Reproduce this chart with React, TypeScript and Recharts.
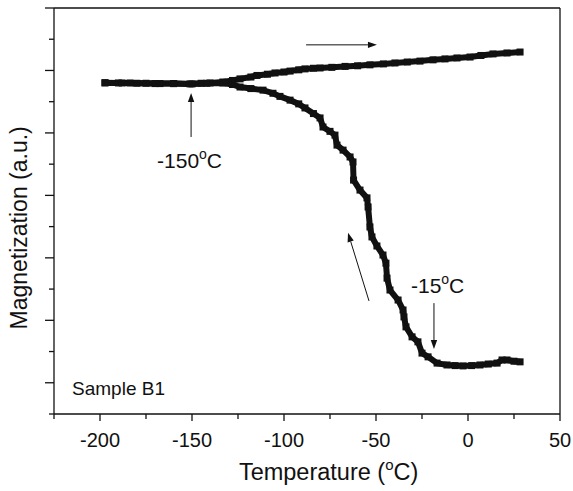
import { LineChart, Line, XAxis, YAxis, ReferenceLine, ReferenceDot } from "recharts";

// temperature (°C) / magnetization (a.u., in tick units)
const warmingT = [-197.3, -190, -183.7, -175, -167.4, -160, -151.1, -145, -140.2, -133.2, -128, -123.9, -118, -114.7, -109, -104.9, -100, -96.7, -92, -88.6, -84, -80.4, -74, -66.8, -60, -53.3, -46, -39.7, -33, -26.1, -19, -12.5, -6, 1.1, 7, 13.6, 21.2, 28.3];
const warmingM = [10.61, 10.6, 10.6, 10.59, 10.58, 10.58, 10.57, 10.59, 10.6, 10.63, 10.68, 10.73, 10.79, 10.84, 10.88, 10.92, 10.95, 10.98, 11.02, 11.05, 11.07, 11.08, 11.1, 11.13, 11.15, 11.18, 11.21, 11.24, 11.27, 11.3, 11.34, 11.37, 11.4, 11.43, 11.48, 11.53, 11.56, 11.59];

const coolingT = [-197.3, -188, -180, -170, -160, -150, -142, -133.2, -128, -123.9, -118, -111.4, -106, -102.2, -96.7, -92, -88.6, -84, -80.4, -78.8, -75, -72.3, -71.2, -67.9, -64.1, -62.5, -62.2, -58.7, -54.9, -54.3, -53.3, -52.2, -49.5, -46.2, -44.6, -44.0, -42.4, -38.0, -35.3, -34.8, -33.7, -30.4, -27.2, -25.0, -21.7, -16.8, -11.4, -7, -2.7, 2, 6.5, 11, 15.8, 18.5, 21.2, 25, 28.3];
const coolingM = [10.6, 10.6, 10.59, 10.58, 10.58, 10.57, 10.59, 10.6, 10.55, 10.47, 10.42, 10.37, 10.27, 10.17, 10.05, 9.93, 9.8, 9.62, 9.48, 9.19, 9.05, 8.93, 8.61, 8.45, 8.23, 8.07, 7.49, 7.17, 6.92, 6.63, 5.99, 5.67, 5.38, 5.09, 4.83, 4.35, 3.97, 3.65, 3.33, 3.11, 2.79, 2.47, 2.31, 1.95, 1.83, 1.63, 1.57, 1.55, 1.54, 1.55, 1.57, 1.6, 1.63, 1.73, 1.73, 1.69, 1.67];

const xTicks = [-225, -200, -175, -150, -125, -100, -75, -50, -25, 0, 25, 50];
const yTicks = [0, 1, 2, 3, 4, 5, 6, 7, 8, 9, 10, 11, 12, 13];

const warming = warmingT.map((t, i) => ({ t, m: warmingM[i] }));
const cooling = coolingT.map((t, i) => ({ t, m: coolingM[i] }));

const INK = "#111";
const FONT = "'Liberation Sans', Arial, sans-serif";

function XTick({ x, y, payload }: any) {
  const major = payload.value % 50 === 0;
  return (
    <g>
      <line x1={x} y1={y} x2={x} y2={y + (major ? 7 : 5)} stroke={INK} strokeWidth={1.3} />
      {major && (
        <text x={x} y={y + 33} textAnchor="middle" fontSize={20} fontFamily={FONT} fill={INK}>
          {payload.value}
        </text>
      )}
    </g>
  );
}

function YTick({ x, y, payload }: any) {
  const major = payload.value % 2 === 1;
  return <line x1={x} y1={y} x2={x - (major ? 9 : 5)} y2={y} stroke={INK} strokeWidth={1.3} />;
}

function SquareDot(p: any) {
  return <rect key={p.index} x={p.cx - 3.5} y={p.cy - 3.5} width={7} height={7} fill={INK} />;
}

function Arrow(p: any) {
  const { x1, y1, x2, y2 } = p;
  const a = Math.atan2(y2 - y1, x2 - x1);
  const L = 9;
  const W = 3.2;
  const bx = x2 - L * Math.cos(a);
  const by = y2 - L * Math.sin(a);
  const pts = `${x2},${y2} ${bx - W * Math.sin(a)},${by + W * Math.cos(a)} ${bx + W * Math.sin(a)},${by - W * Math.cos(a)}`;
  return (
    <g>
      <line x1={x1} y1={y1} x2={bx} y2={by} stroke={INK} strokeWidth={1} />
      <polygon points={pts} fill={INK} />
    </g>
  );
}

function degLabel(value: string) {
  return (p: any) => (
    <text x={p.cx} y={p.cy} fontSize={21} fontFamily={FONT} fill={INK}>
      {value}
      <tspan fontSize={14} dy={-9}>o</tspan>
      <tspan dy={9}>C</tspan>
    </text>
  );
}

function plainLabel(value: string) {
  return (p: any) => (
    <text x={p.cx} y={p.cy} fontSize={19} fontFamily={FONT} fill={INK}>
      {value}
    </text>
  );
}

export default function App() {
  return (
    <div style={{ position: "absolute", left: 0, top: 0, background: "#fff" }}>
      <LineChart width={573} height={491} margin={{ top: 8, right: 13, bottom: 0, left: 8 }}>
        <XAxis
          type="number"
          dataKey="t"
          domain={[-225, 50]}
          ticks={xTicks}
          allowDataOverflow
          height={77}
          tickSize={0}
          tickMargin={0}
          tickLine={false}
          interval={0}
          axisLine={{ stroke: INK, strokeWidth: 1.3 }}
          tick={<XTick />}
        />
        <YAxis
          type="number"
          domain={[0, 13]}
          ticks={yTicks}
          allowDataOverflow
          width={46}
          tickSize={0}
          tickMargin={0}
          tickLine={false}
          interval={0}
          axisLine={{ stroke: INK, strokeWidth: 1.3 }}
          tick={<YTick />}
        />
        <ReferenceLine y={13} stroke={INK} strokeWidth={1.3} />
        <ReferenceLine x={50} stroke={INK} strokeWidth={1.3} />
        <Line
          data={warming}
          dataKey="m"
          type="linear"
          stroke={INK}
          strokeWidth={6}
          dot={SquareDot}
          activeDot={false}
          isAnimationActive={false}
        />
        <Line
          data={cooling}
          dataKey="m"
          type="linear"
          stroke={INK}
          strokeWidth={6}
          dot={SquareDot}
          activeDot={false}
          isAnimationActive={false}
        />
        <ReferenceLine segment={[{ x: -88, y: 11.82 }, { x: -49.5, y: 11.82 }]} ifOverflow="visible" shape={Arrow} />
        <ReferenceLine segment={[{ x: -150.5, y: 8.87 }, { x: -150.5, y: 10.28 }]} ifOverflow="visible" shape={Arrow} />
        <ReferenceLine segment={[{ x: -18.5, y: 3.55 }, { x: -18.5, y: 2.08 }]} ifOverflow="visible" shape={Arrow} />
        <ReferenceLine segment={[{ x: -53.8, y: 3.62 }, { x: -65.2, y: 5.8 }]} ifOverflow="visible" shape={Arrow} />
        <ReferenceDot x={-169} y={7.88} r={0} ifOverflow="visible" shape={degLabel("-150")} />
        <ReferenceDot x={-31} y={3.87} r={0} ifOverflow="visible" shape={degLabel("-15")} />
        <ReferenceDot x={-215.2} y={0.61} r={0} ifOverflow="visible" shape={plainLabel("Sample B1")} />
        <ReferenceDot x={-124.5} y={-2.11} r={0} ifOverflow="visible" shape={(p: any) => (
          <text x={p.cx} y={p.cy} textAnchor="start" fontSize={23.5} fontFamily={FONT} fill={INK}>
            Temperature (<tspan fontSize={15} dy={-10}>o</tspan><tspan dy={10}>C)</tspan>
          </text>
        )} />
        <ReferenceDot x={-239.7} y={5.96} r={0} ifOverflow="visible" shape={(p: any) => (
          <text x={p.cx} y={p.cy} transform={`rotate(-90 ${p.cx} ${p.cy})`} textAnchor="middle" fontSize={23} fontFamily={FONT} fill={INK}>
            Magnetization (a.u.)
          </text>
        )} />
      </LineChart>
    </div>
  );
}
